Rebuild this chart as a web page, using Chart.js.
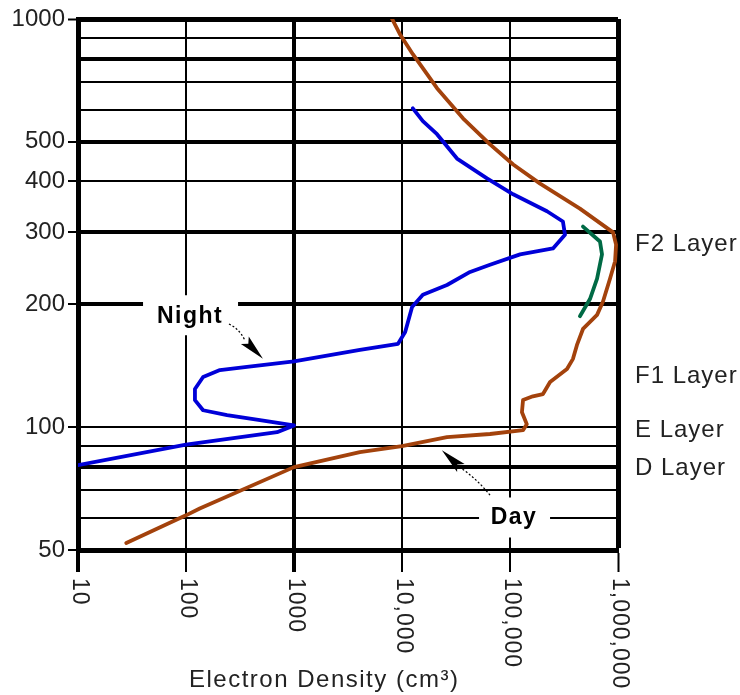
<!DOCTYPE html>
<html>
<head>
<meta charset="utf-8">
<title>Ionosphere electron density</title>
<script src="https://cdn.jsdelivr.net/npm/chart.js@4"></script>
<style>
    body { margin: 0; padding: 0; background: #fff; }
    #wrap { position: relative; width: 740px; height: 695px; }
</style>
</head>
<body>
<div id="wrap">
    <canvas id="ionoChart"></canvas>
</div>
<script>
    // axis ticks
    var yTicks = [50, 60, 70, 80, 90, 100, 200, 300, 400, 500, 600, 700, 800, 900, 1000];
    var yLabeled = [50, 100, 200, 300, 400, 500, 1000];
    var yHeavy = [80, 200, 300, 500, 800];
    var xTicks = [10, 100, 1000, 10000, 100000, 1000000];
    var xTickLabels = ['10', '100', '1000', '10,000', '100,000', '1,000,000'];
    var xHeavy = [1000];

    // day profile (density, height)
    var dayDensity = [28, 100, 134, 1000, 4070, 10000, 26100, 65300, 132000, 143000, 129000, 132000, 163000, 202000, 235000, 337000, 383000, 417000, 474000, 640000, 725000, 843000, 940000, 960000, 900000, 444000, 190000, 107000, 65300, 36700, 21100, 12600, 9540, 8100];
    var dayHeight  = [52, 60.8, 63.2, 79.8, 86.9, 89.8, 94.5, 96.2, 98.3, 101.7, 108.8, 116.5, 119, 120.5, 129, 138.8, 147, 159, 174, 188.4, 202.8, 231, 255, 280, 300, 343, 395, 440, 493, 571, 677, 820, 919, 1000];

    // night profile
    var nightDensity = [10, 100, 697, 1000, 484, 240, 144, 121, 121, 144, 206, 367, 1000, 4080, 9190, 10700, 12400, 15600, 26100, 42700, 65300, 124000, 250000, 323000, 309000, 220000, 107000, 61200, 32300, 21100, 15600, 12600];
    var nightHeight  = [80.7, 90.6, 97.2, 101, 104, 107, 110, 116.5, 124, 132.7, 138, 140.5, 145, 154.6, 160, 171, 197, 211, 223, 240, 250, 265, 274, 296, 319, 338, 372, 407, 455, 522, 562, 604];

    // green F2 segment
    var f2Density = [474000, 681000, 711000, 640000, 550000, 444000];
    var f2Height  = [310, 285, 265, 231, 206, 187];

    // layer names on the right, by height
    var layerNames = ['F2 Layer', 'F1 Layer', 'E Layer', 'D Layer'];
    var layerHeights = [280, 133, 98.3, 79.3];

    function toPoints(xs, ys) {
        return xs.map(function (x, i) { return { x: x, y: ys[i] }; });
    }

    var FONT = '"Liberation Sans", Arial, sans-serif';

    function drawArrow(ctx, x1, y1, x2, y2, bend) {
        var dx = x2 - x1, dy = y2 - y1;
        var len = Math.sqrt(dx * dx + dy * dy);
        var ux = dx / len, uy = dy / len;
        var head = 26, half = 5.5;
        var bx = x2 - ux * head, by = y2 - uy * head;
        // dotted lead-in
        ctx.save();
        ctx.strokeStyle = '#000';
        ctx.lineWidth = 1.2;
        ctx.setLineDash([2, 2]);
        ctx.beginPath();
        ctx.moveTo(x1, y1);
        var mx = (x1 + bx) / 2 - uy * bend, my = (y1 + by) / 2 + ux * bend;
        ctx.quadraticCurveTo(mx, my, bx, by);
        ctx.stroke();
        ctx.restore();
        // head
        ctx.beginPath();
        ctx.moveTo(x2, y2);
        ctx.lineTo(bx - uy * half, by + ux * half);
        ctx.lineTo(bx + ux * 5, by + uy * 5);
        ctx.lineTo(bx + uy * half, by - ux * half);
        ctx.closePath();
        ctx.fillStyle = '#000';
        ctx.fill();
    }

    var labelsPlugin = {
        id: 'ionoLabels',
        beforeDatasetsDraw: function (chart) {
            var ctx = chart.ctx, sx = chart.scales.x, sy = chart.scales.y;
            ctx.save();
            ctx.fillStyle = '#fff';
            var nx = sx.getPixelForValue(109), ny = sy.getPixelForValue(188);
            ctx.fillRect(nx - 47, ny - 20, 95, 40);
            var dx = sx.getPixelForValue(109000), dy = sy.getPixelForValue(60.4);
            ctx.fillRect(dx - 35, dy - 19, 71, 40);
            ctx.restore();
        },
        afterDraw: function (chart) {
            var ctx = chart.ctx, sx = chart.scales.x, sy = chart.scales.y;
            var area = chart.chartArea;
            ctx.save();

            // Night / Day tags
            ctx.fillStyle = '#000';
            ctx.font = 'bold 23px ' + FONT;
            ctx.letterSpacing = '1.5px';
            ctx.textAlign = 'center';
            ctx.textBaseline = 'middle';
            ctx.fillText('Night', sx.getPixelForValue(109), sy.getPixelForValue(188) + 1);
            ctx.fillText('Day', sx.getPixelForValue(109000), sy.getPixelForValue(60.4) + 1);
            ctx.letterSpacing = '0px';

            drawArrow(ctx, sx.getPixelForValue(250), sy.getPixelForValue(179),
                      sx.getPixelForValue(516), sy.getPixelForValue(147), -4);
            drawArrow(ctx, sx.getPixelForValue(65300), sy.getPixelForValue(68.1),
                      sx.getPixelForValue(23400), sy.getPixelForValue(87.8), 3);

            // layer names
            ctx.fillStyle = '#222';
            ctx.font = '24px ' + FONT;
            ctx.letterSpacing = '1px';
            ctx.textAlign = 'left';
            layerNames.forEach(function (name, i) {
                ctx.fillText(name, area.right + 17, sy.getPixelForValue(layerHeights[i]));
            });

            // x tick labels, rotated clockwise
            ctx.font = '23px ' + FONT;
            xTicks.forEach(function (v, i) {
                ctx.save();
                ctx.translate(sx.getPixelForValue(v) + 1, area.bottom + 28);
                ctx.rotate(Math.PI / 2);
                ctx.textAlign = 'left';
                ctx.textBaseline = 'middle';
                ctx.fillText(xTickLabels[i], 0, 0);
                ctx.restore();
            });

            // axis title
            ctx.font = '24px ' + FONT;
            ctx.letterSpacing = '1.5px';
            ctx.textBaseline = 'alphabetic';
            ctx.fillText('Electron Density (cm³)', 189, 687);
            ctx.restore();
        }
    };

    var config = {
        type: 'scatter',
        data: {
            datasets: [
                {
                    label: 'Day',
                    data: toPoints(dayDensity, dayHeight),
                    showLine: true,
                    borderColor: '#A3420C',
                    borderWidth: 3.8,
                    pointRadius: 0,
                    borderJoinStyle: 'round',
                    borderCapStyle: 'round'
                },
                {
                    label: 'Night',
                    data: toPoints(nightDensity, nightHeight),
                    showLine: true,
                    borderColor: '#0000D8',
                    borderWidth: 3.8,
                    pointRadius: 0,
                    borderJoinStyle: 'round',
                    borderCapStyle: 'round'
                },
                {
                    label: 'F2',
                    data: toPoints(f2Density, f2Height),
                    showLine: true,
                    borderColor: '#006A45',
                    borderWidth: 3.8,
                    pointRadius: 0,
                    borderJoinStyle: 'round',
                    borderCapStyle: 'round'
                }
            ]
        },
        options: {
            responsive: true,
            maintainAspectRatio: false,
            animation: false,
            layout: { padding: { top: 19, right: 122, bottom: 0, left: 0 } },
            plugins: {
                legend: { display: false },
                tooltip: { enabled: false }
            },
            scales: {
                x: {
                    type: 'logarithmic',
                    min: 10,
                    max: 1000000,
                    afterBuildTicks: function (s) {
                        s.ticks = xTicks.map(function (v) { return { value: v }; });
                    },
                    afterFit: function (s) { s.height = 145; },
                    ticks: { display: false },
                    grid: {
                        color: '#000',
                        lineWidth: function (c) {
                            if (c.tick && c.tick.value === 1000000) return 5;
                            return c.tick && xHeavy.indexOf(c.tick.value) >= 0 ? 4 : 2;
                        },
                        tickLength: 22,
                        tickColor: '#000',
                        tickWidth: function (c) {
                            return c.tick && (c.tick.value === 10 || c.tick.value === 1000) ? 4 : 2;
                        }
                    },
                    border: { display: true, color: '#000', width: 5 }
                },
                y: {
                    type: 'logarithmic',
                    min: 50,
                    max: 1000,
                    afterBuildTicks: function (s) {
                        s.ticks = yTicks.map(function (v) { return { value: v }; });
                    },
                    afterFit: function (s) { s.width = 78; },
                    ticks: {
                        autoSkip: false,
                        padding: 3,
                        color: '#222',
                        font: { family: FONT, size: 24 },
                        callback: function (v) {
                            return yLabeled.indexOf(v) >= 0 ? String(v) : '';
                        }
                    },
                    grid: {
                        color: '#000',
                        lineWidth: function (c) {
                            if (c.tick && c.tick.value === 1000) return 5;
                            return c.tick && yHeavy.indexOf(c.tick.value) >= 0 ? 4 : 2;
                        },
                        tickLength: 10,
                        tickWidth: 2,
                        tickColor: function (c) {
                            return c.tick && yLabeled.indexOf(c.tick.value) >= 0 ? '#000' : 'rgba(0,0,0,0)';
                        }
                    },
                    border: { display: true, color: '#000', width: 5 }
                }
            }
        },
        plugins: [labelsPlugin]
    };

    var ionoChart = new Chart(document.getElementById('ionoChart'), config);
</script>
</body>
</html>
